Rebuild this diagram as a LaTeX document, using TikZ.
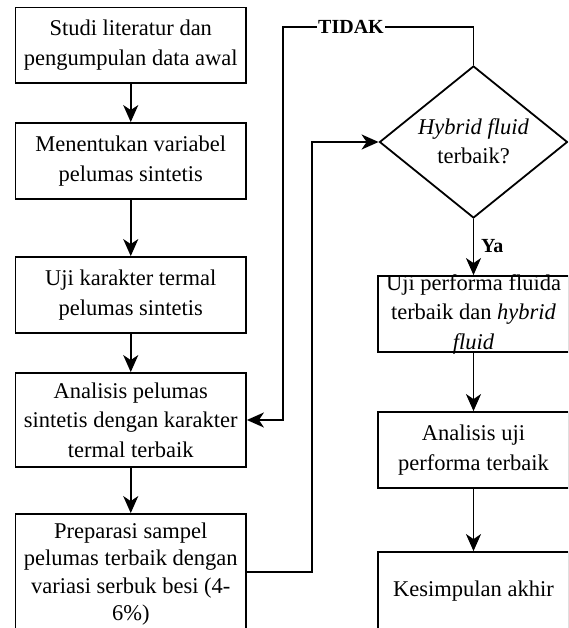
\documentclass[tikz,border=0pt]{standalone}
\usepackage{fontspec}
\setmainfont{Liberation Serif}
\usetikzlibrary{arrows.meta,shapes.geometric}
\begin{document}
\begin{tikzpicture}[x=1pt,y=-1pt,
  lbox/.style={draw, line width=1.8pt, inner sep=0pt, minimum width=230.5pt},
  rbox/.style={draw, line width=1.8pt, inner sep=0pt, minimum width=191pt},
  txt/.style={align=center, inner sep=0pt, font=\fontsize{22.5}{29.5}\selectfont},
  lbl/.style={inner sep=1pt, font=\bfseries\fontsize{20}{24}\selectfont},
  conn/.style={line width=1.8pt, -{Stealth[length=17pt,width=15pt,inset=5pt]}},
  plainline/.style={line width=1.8pt}]
\useasboundingbox (0,0) rectangle (568,628);
\clip (0,0) rectangle (568,628);
% left column
\node[lbox, minimum height=75.5pt] (b1) at (130.75,45.25) {};
\node[txt] (b1t) at (b1.center) {Studi literatur dan\\pengumpulan data awal};
\node[lbox, minimum height=76pt] (b2) at (130.75,161) {};
\node[txt] (b2t) at (b2.center) {Menentukan variabel\\pelumas sintetis};
\node[lbox, minimum height=76pt] (b3) at (130.75,295) {};
\node[txt] (b3t) at (b3.center) {Uji karakter termal\\pelumas sintetis};
\node[lbox, minimum height=94pt] (b4) at (130.75,420) {};
\node[txt] (b4t) at (b4.center) {Analisis pelumas\\sintetis dengan karakter\\termal terbaik};
\node[lbox, minimum height=116pt] (b5) at (130.75,572) {};
\node[txt, font=\fontsize{22.5}{27.5}\selectfont] (b5t) at (130.75,574) {Preparasi sampel\\pelumas terbaik dengan\\variasi serbuk besi (4-\\6\%)};
% right column
\node[diamond, draw, line width=1.8pt, inner sep=0pt, minimum width=188pt, minimum height=152pt] (dia) at (473.5,142) {};
\node[txt] (diat) at (473.5,141) {\textit{Hybrid fluid}\\terbaik?};
\node[rbox, minimum height=76pt] (r1) at (473.5,314) {};
\node[txt] (r1t) at (r1.center) {Uji performa fluida\\terbaik dan \textit{hybrid}\\\textit{fluid}};
\node[rbox, minimum height=76pt] (r2) at (473.5,450) {};
\node[txt] (r2t) at (r2.center) {Analisis uji\\performa terbaik};
\node[rbox, minimum height=78pt] (r3) at (473.5,591) {};
\node[txt] (r3t) at (r3.center) {Kesimpulan akhir};
% connectors
\draw[conn] (b1) -- (b2);
\draw[conn] (b2) -- (b3);
\draw[conn] (b3) -- (b4);
\draw[conn] (b4) -- (b5);
\coordinate (t1) at (283,27);
\coordinate (t2) at (312,142);
\draw[conn] (dia.north) |- (t1) |- (b4.east);
\node[lbl, fill=white] (tidak) at (351,27) {TIDAK};
\draw[conn] (b5.east) -| (t2) -- (dia.west);
\draw[conn] (dia.south) -- (r1.north);
\node[lbl, anchor=west] (ya) at (480,246) {Ya};
\draw[conn] (r1) -- (r2);
\draw[conn] (r2) -- (r3);
\end{tikzpicture}
\end{document}
